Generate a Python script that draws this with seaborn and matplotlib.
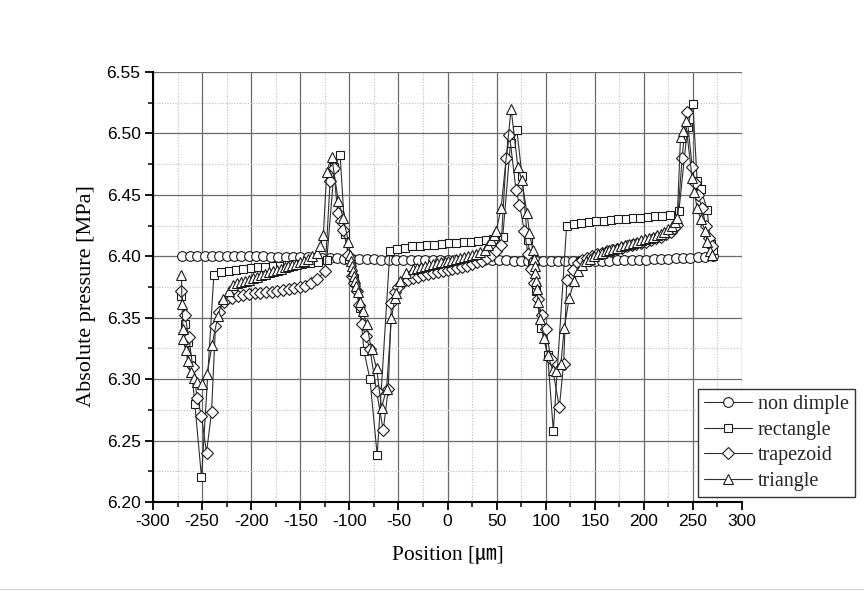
import matplotlib
matplotlib.use("Agg")
import matplotlib.pyplot as plt
import seaborn as sns
from matplotlib.ticker import MultipleLocator, FormatStrFormatter
from matplotlib.lines import Line2D

# ---------------- data ----------------
labels = ["non dimple", "rectangle", "trapezoid", "triangle"]

x_non = [-270, -262.5, -255, -247.5, -240, -232.5, -225, -217.5, -210, -202.5,
         -195, -187.5, -180, -172.5, -165, -157.5, -150, -142.5, -135, -127.5,
         -120, -112.5, -105, -97.5, -90, -82.5, -75, -67.5, -60, -52.5,
         -45, -37.5, -30, -22.5, -15, -7.5, 0, 7.5, 15, 22.5,
         30, 37.5, 45, 52.5, 60, 67.5, 75, 82.5, 90, 97.5,
         105, 112.5, 120, 127.5, 135, 142.5, 150, 157.5, 165, 172.5,
         180, 187.5, 195, 202.5, 210, 217.5, 225, 232.5, 240, 247.5,
         255, 262.5, 270]
y_non = [6.4005, 6.4005, 6.4005, 6.4005, 6.4004, 6.4004, 6.4003, 6.4003, 6.4002, 6.4001,
         6.4000, 6.3999, 6.3998, 6.3997, 6.3996, 6.3995, 6.3993, 6.3991, 6.3989, 6.3987,
         6.3985, 6.3983, 6.3980, 6.3978, 6.3976, 6.3975, 6.3974, 6.3973, 6.3972, 6.3972,
         6.3971, 6.3971, 6.3971, 6.3970, 6.3970, 6.3970, 6.3970, 6.3970, 6.3969, 6.3969,
         6.3969, 6.3968, 6.3968, 6.3967, 6.3966, 6.3965, 6.3964, 6.3963, 6.3962, 6.3962,
         6.3961, 6.3961, 6.3961, 6.3961, 6.3962, 6.3962, 6.3963, 6.3964, 6.3965, 6.3966,
         6.3967, 6.3968, 6.3970, 6.3972, 6.3974, 6.3976, 6.3979, 6.3982, 6.3985, 6.3988,
         6.3992, 6.3996, 6.4000]

x_rect = [-271, -267.5, -264.5, -261.7, -257.4, -250.6,
          -238, -230.5, -223, -215.5, -208, -200.5, -193, -185.5, -178, -170.5,
          -163, -155.5, -148, -140.5, -131.5, -123,
          -115.2, -109.4,
          -104.4, -100, -95, -89.1, -85.1, -79, -71.6,
          -58.7, -51.3, -43.5, -36, -28.5, -21, -13.5, -6, 1.5, 9, 16.5, 24,
          31.5, 39, 46.5, 56.3,
          64.2, 70.6,
          76, 81.5, 86, 90, 95.2, 102, 107.8,
          121.3, 128.8, 136.5, 144, 151.5, 159, 166.5, 174, 181.5, 189, 196.5,
          204, 211.5, 219, 226.5, 235.7,
          244.5, 250,
          254.3, 258, 264.5, 268, 270.5]
y_rect = [6.368, 6.345, 6.330, 6.316, 6.280, 6.220,
          6.385, 6.387, 6.388, 6.389, 6.390, 6.3905, 6.391, 6.3915, 6.392, 6.3925,
          6.393, 6.3935, 6.394, 6.3945, 6.3950, 6.397,
          6.473, 6.4825,
          6.418, 6.398, 6.382, 6.358, 6.323, 6.300, 6.238,
          6.404, 6.406, 6.407, 6.408, 6.4085, 6.409, 6.4095, 6.410, 6.4105, 6.411, 6.4115, 6.412,
          6.4125, 6.413, 6.414, 6.416,
          6.492, 6.503,
          6.465, 6.413, 6.395, 6.372, 6.342, 6.320, 6.258,
          6.4243, 6.426, 6.427, 6.428, 6.4285, 6.429, 6.4295, 6.430, 6.4305, 6.431, 6.4315,
          6.432, 6.4325, 6.433, 6.434, 6.4365,
          6.505, 6.5236,
          6.461, 6.455, 6.438, 6.410, 6.405]

x_trap = [-271.3, -267.5, -263.5, -259.5, -255, -250.6, -245.5, -240.4, -236.4, -233,
          -228, -219.5, -213.7, -207.9, -202.2, -196.4, -190.7, -185, -179.2, -173.4,
          -167.7, -161.9, -156.1, -150.5, -145, -139.3, -132.5, -124.7,
          -119.6, -116,
          -111.9, -108.4, -106.1, -101, -97.7, -95.5, -92.6, -90, -87.5, -83, -79,
          -72.3, -65.5, -60.4, -57.1, -53.5,
          -50.3, -45, -40, -35, -30, -25, -20, -15, -10, -5, 0, 5, 10, 15, 20, 25,
          30, 35, 40, 45, 49.5, 54.6,
          59.7, 63.1,
          69.8, 73.3, 78.4, 82, 85, 88, 92, 96, 100.3, 105.4, 113.9, 118.3, 121.6,
          127.4, 132.5, 137.5, 142.5, 147.5, 152.5, 157.5, 162.5, 167.5, 172.5,
          177.5, 182.5, 187.5, 192.5, 197.5, 202.5, 207.5, 212.5, 217.5, 222.5,
          227.5, 231, 234,
          239, 243.5,
          249.2, 252, 255, 259.4, 263, 266, 269.5]
y_trap = [6.3716, 6.352, 6.334, 6.310, 6.285, 6.270, 6.240, 6.273, 6.343, 6.355,
          6.3629, 6.366, 6.3675, 6.3686, 6.3694, 6.3700, 6.3705, 6.3708, 6.3713, 6.3718,
          6.3724, 6.3730, 6.3738, 6.3748, 6.3762, 6.3783, 6.3816, 6.3878,
          6.461, 6.472,
          6.4352, 6.4284, 6.4217, 6.4014, 6.3838, 6.378, 6.3716, 6.360, 6.3446, 6.335, 6.3242,
          6.2906, 6.2582, 6.2918, 6.3621, 6.371,
          6.375, 6.379, 6.381, 6.3825, 6.3835, 6.3845, 6.3855, 6.3865, 6.3873, 6.388, 6.3888,
          6.3896, 6.3905, 6.3915, 6.3925, 6.3935, 6.395, 6.3965, 6.3985, 6.401, 6.4045, 6.409,
          6.4798, 6.4988,
          6.4541, 6.442, 6.4203, 6.402, 6.390, 6.378, 6.365, 6.352, 6.3405, 6.316, 6.277,
          6.3125, 6.381,
          6.389, 6.3946, 6.397, 6.399, 6.4005, 6.402, 6.403, 6.404, 6.405, 6.406,
          6.407, 6.408, 6.409, 6.410, 6.411, 6.412, 6.413, 6.4145, 6.416, 6.418,
          6.420, 6.423, 6.4257,
          6.480, 6.5177,
          6.473, 6.460, 6.450, 6.4392, 6.425, 6.415, 6.408]

x_tri = [-271, -270.5, -269.5, -269, -266.8, -264.5, -261.7, -258.5, -255, -250,
         -244.9, -239.8, -234, -229, -223,
         -218, -214, -210, -206, -202, -198, -194, -190, -186, -182, -178, -174,
         -170, -166, -162, -158, -154, -150, -146, -142, -138, -133, -130, -126.5,
         -123, -118,
         -111.2, -106.1, -101, -99.3, -98, -97, -96, -95, -94, -93, -91.5, -89,
         -85.8, -82.4, -77.4, -72.3, -67.2, -62.1, -57.1, -53.5,
         -52, -48.5, -41.8, -35, -31, -27, -23, -19, -15, -11, -7, -3, 1, 5, 9,
         13, 17, 21, 25, 29, 33, 37.8, 41, 44.5, 47, 49.5,
         54.6, 64.8,
         71.6, 75.6, 81, 83.5, 86.8, 88, 88.8, 89.5, 90.3, 91.2, 92.4, 94.6, 98.7,
         102, 107.1, 111, 115.5, 119, 124,
         129, 133, 137, 141, 145, 149, 153, 157, 161, 165, 169, 173, 177, 181,
         185, 189, 193, 197, 201, 205, 209, 213, 217, 221, 225, 229, 232, 234,
         237.4, 240, 242.5,
         249.2, 251.5, 254.3, 258, 262.7, 264.5, 267.8, 269.5]
y_tri = [6.385, 6.361, 6.341, 6.333, 6.324, 6.315, 6.3055, 6.301, 6.298, 6.296,
         6.304, 6.328, 6.351, 6.365, 6.372,
         6.377, 6.378, 6.379, 6.380, 6.381, 6.3822, 6.3834, 6.3846, 6.3858, 6.387, 6.388, 6.389,
         6.390, 6.391, 6.392, 6.393, 6.394, 6.395, 6.3965, 6.398, 6.400, 6.403, 6.408, 6.417,
         6.469, 6.481,
         6.4446, 6.431, 6.412, 6.4014, 6.396, 6.392, 6.388, 6.384, 6.380, 6.376, 6.371, 6.363,
         6.3554, 6.3446, 6.3242, 6.3093, 6.2769, 6.2918, 6.350, 6.366,
         6.370, 6.3797, 6.3865, 6.3895, 6.3905, 6.3915, 6.3925, 6.393, 6.3937, 6.3944, 6.395,
         6.3957, 6.3963, 6.397, 6.3977,
         6.3985, 6.3993, 6.400, 6.401, 6.402, 6.4035, 6.4055, 6.409, 6.4135, 6.417, 6.4203,
         6.439, 6.5201,
         6.473, 6.4623, 6.4351, 6.4189, 6.4054, 6.398, 6.392, 6.386, 6.380, 6.373, 6.363,
         6.3486, 6.3337,
         6.320, 6.3076, 6.307, 6.3125, 6.3418, 6.366,
         6.3797, 6.388, 6.393, 6.396, 6.398, 6.400, 6.4015, 6.403, 6.404, 6.405, 6.406, 6.407,
         6.408, 6.409,
         6.410, 6.411, 6.412, 6.413, 6.414, 6.415, 6.416, 6.417, 6.4185, 6.420, 6.422, 6.425,
         6.428, 6.431,
         6.4974, 6.502, 6.510,
         6.4636, 6.452, 6.4392, 6.430, 6.4203, 6.412, 6.404, 6.4014]

x_ticks = [-300, -250, -200, -150, -100, -50, 0, 50, 100, 150, 200, 250, 300]
y_ticks = [6.20, 6.25, 6.30, 6.35, 6.40, 6.45, 6.50, 6.55]

# ---------------- style ----------------
sns.set_theme(style="ticks")
plt.rcParams["font.family"] = ["Liberation Sans", "DejaVu Sans"]
plt.rcParams["axes.unicode_minus"] = False

fig = plt.figure(figsize=(8.64, 6.03), dpi=100)
ax = fig.add_axes([153 / 864, 1 - 502 / 603, 589 / 864, 430 / 603])

series = [
    (labels[0], x_non, y_non, "o", 7.0),
    (labels[1], x_rect, y_rect, "s", 6.3),
    (labels[2], x_trap, y_trap, "D", 6.0),
    (labels[3], x_tri, y_tri, "^", 7.6),
]
for name, xs, ys, mk, ms in series:
    sns.lineplot(x=xs, y=ys, ax=ax, sort=False, estimator=None, label=name,
                 marker=mk, markersize=ms, markerfacecolor="white",
                 markeredgecolor="#1c1c1c", markeredgewidth=0.8,
                 color="#2e2e2e", linewidth=0.8, legend=False)

ax.set_xlim(-300, 300)
ax.set_ylim(6.20, 6.55)
ax.set_xticks(x_ticks)
ax.set_yticks(y_ticks)
ax.xaxis.set_minor_locator(MultipleLocator(25))
ax.yaxis.set_minor_locator(MultipleLocator(0.025))
ax.yaxis.set_major_formatter(FormatStrFormatter("%.2f"))

ax.set_axisbelow(True)
ax.grid(which="major", color="#6a6a6a", linewidth=0.9, linestyle="-")
ax.grid(which="minor", color="#bdbdbd", linewidth=0.8, linestyle=(0, (1, 1.5)))

for s in ["top", "right"]:
    ax.spines[s].set_visible(False)
for s in ["left", "bottom"]:
    ax.spines[s].set_color("black")
    ax.spines[s].set_linewidth(1.5)

ax.tick_params(which="major", direction="out", length=6, width=1.3, color="black",
               labelsize=12.5, labelcolor="black", pad=3)
ax.tick_params(which="minor", direction="out", length=3.5, width=1.1, color="black")

ax.set_xlabel("Position [㎛]", fontsize=15.5,
              family=["Liberation Serif", "Noto Sans CJK JP"], color="black")
ax.set_ylabel("Absolute pressure [MPa]", fontsize=16,
              family=["Liberation Serif", "DejaVu Serif"], color="black")
ax.xaxis.set_label_coords(0.5, -0.102)
ax.yaxis.set_label_coords(-0.097, 0.48)

leg = ax.legend(loc="lower right", bbox_to_anchor=(855 / 864, 1 - 497 / 603),
                bbox_transform=fig.transFigure,
                prop={"family": "Liberation Serif", "size": 14.5},
                frameon=True, fancybox=False, framealpha=1, edgecolor="#333333",
                borderpad=0.3, labelspacing=0.32, handlelength=2.4,
                handletextpad=0.3, borderaxespad=0)
leg.get_frame().set_linewidth(1.0)

# faint separator line near the bottom edge, as in the reference
fig.add_artist(Line2D([0, 1], [1 - 589 / 603, 1 - 589 / 603], transform=fig.transFigure,
                      color="#d8d8d8", linewidth=1.0))

fig.savefig("out.png", dpi=100, facecolor="white")
